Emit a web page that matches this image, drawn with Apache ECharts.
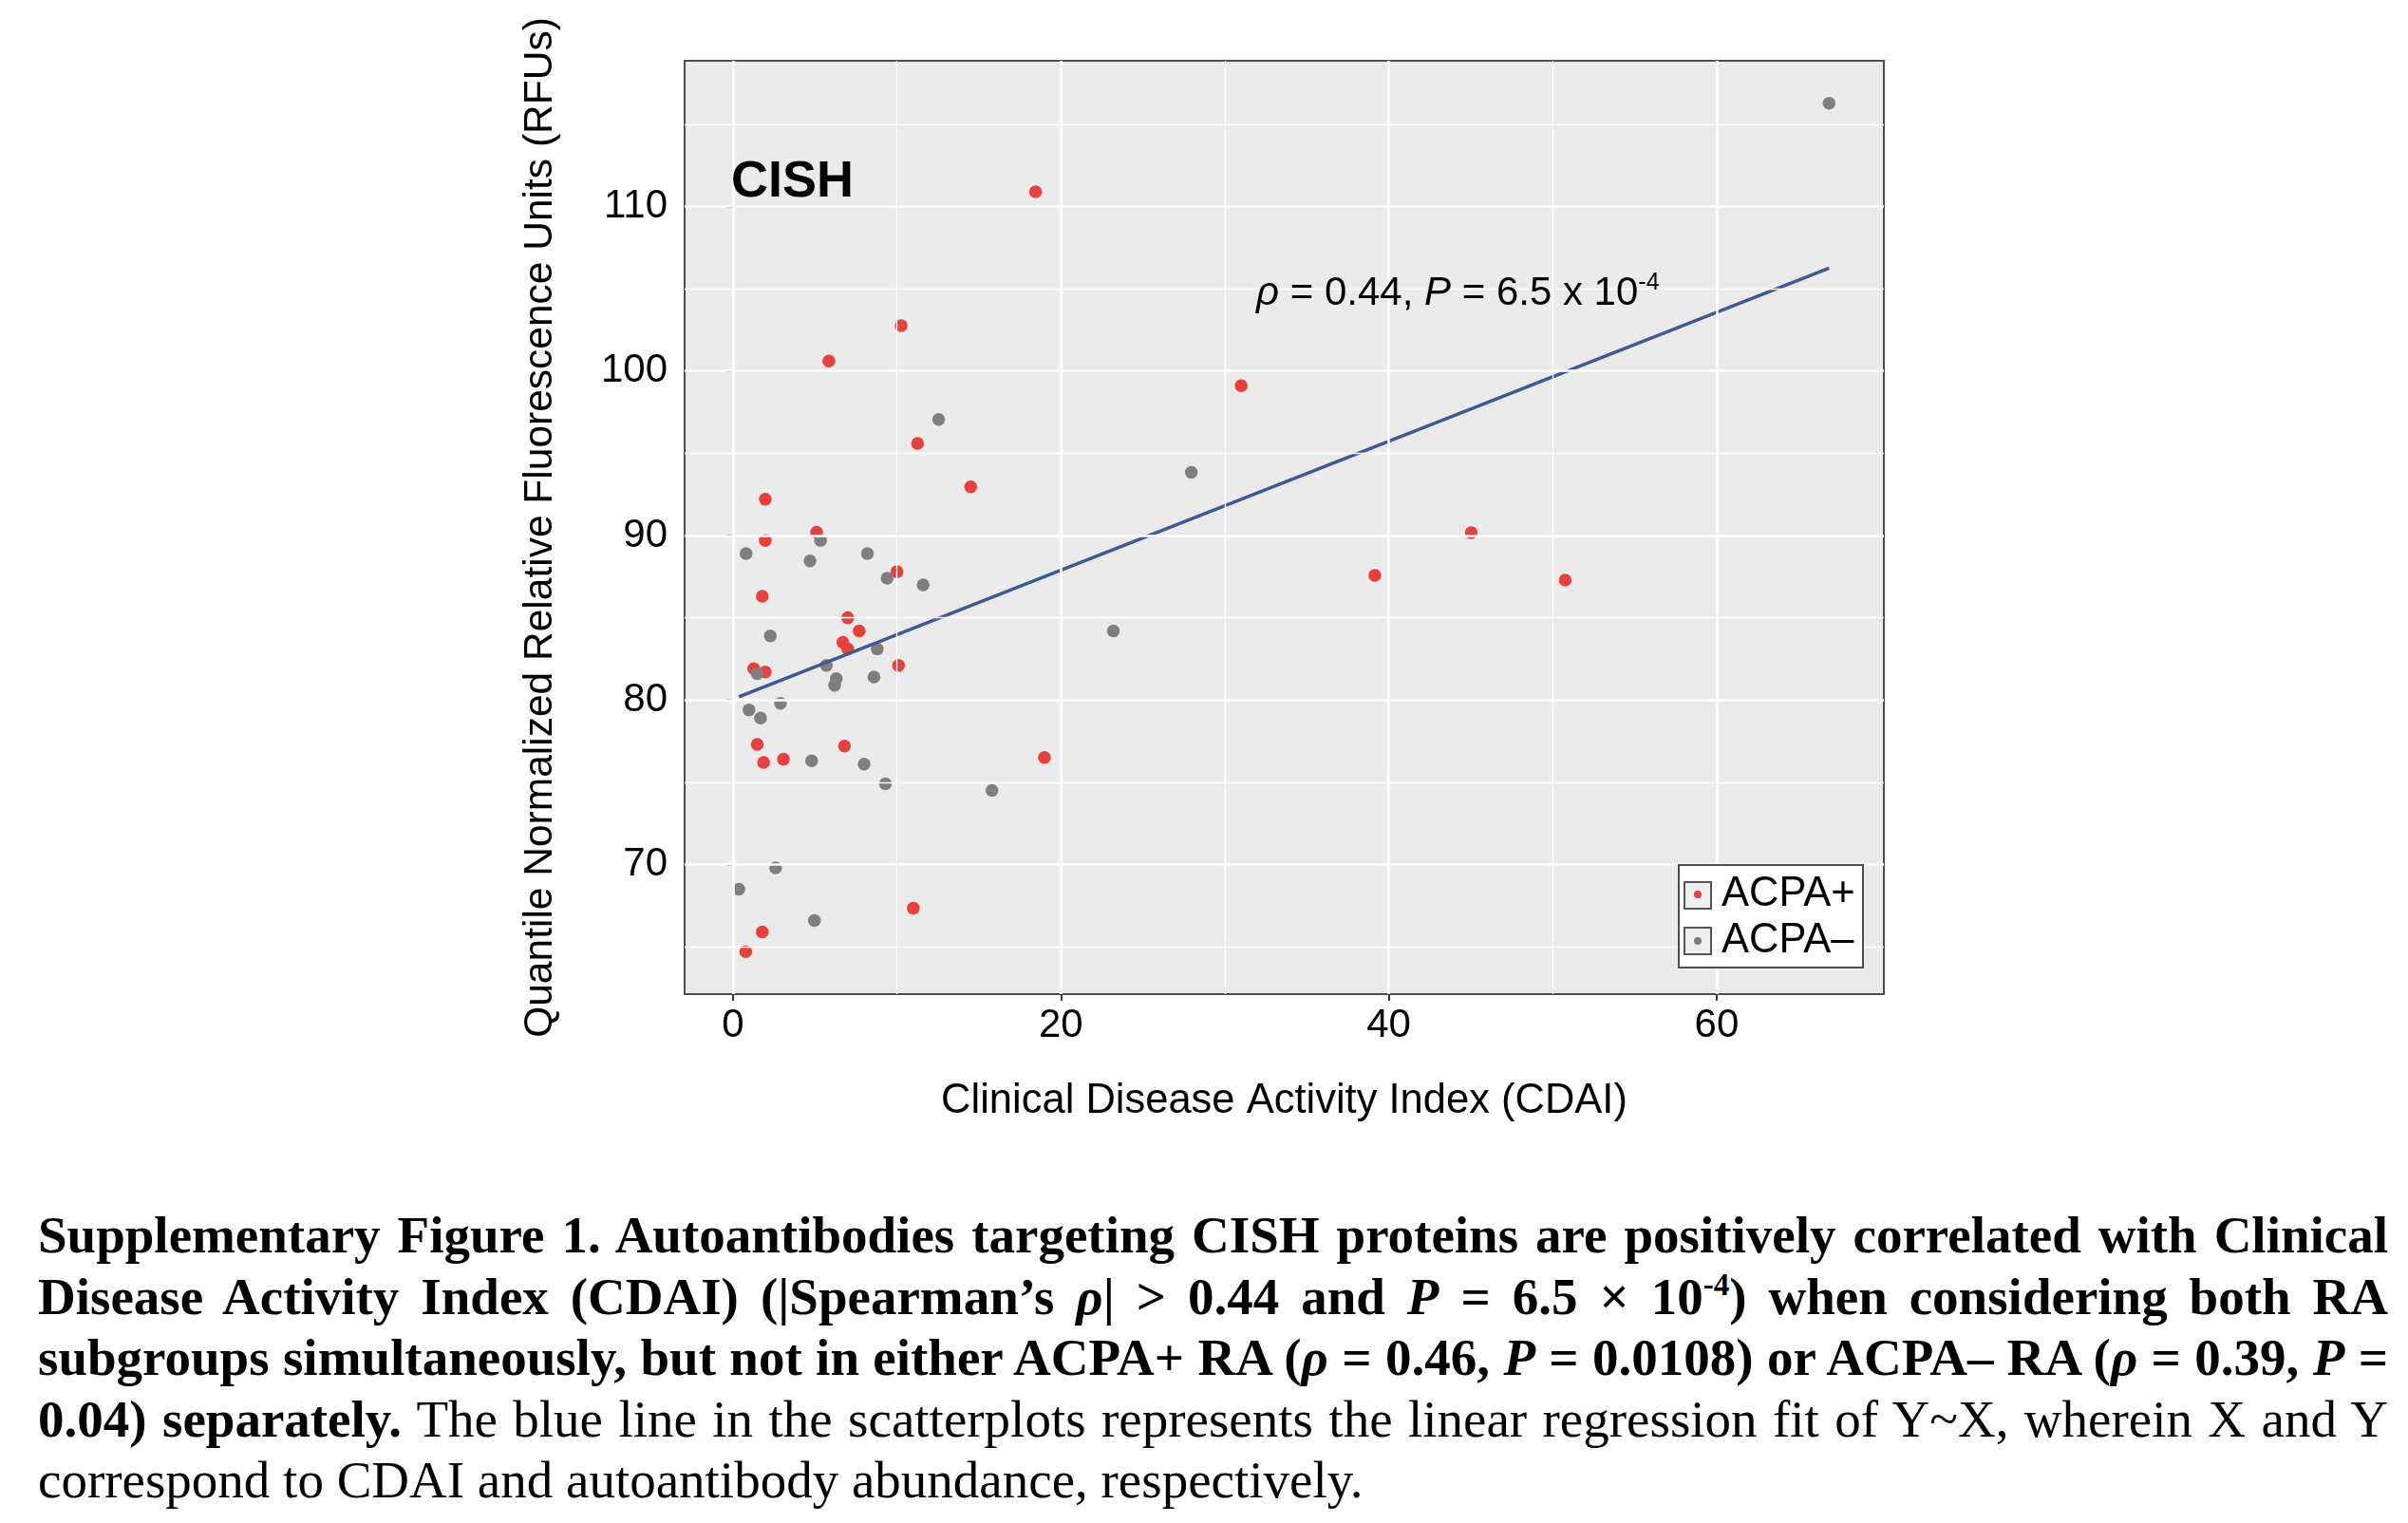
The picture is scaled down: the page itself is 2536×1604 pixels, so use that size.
<!DOCTYPE html>
<html>
<head>
<meta charset="utf-8">
<script src="https://cdn.jsdelivr.net/npm/echarts@6.0.0/dist/echarts.min.js"></script>
<style>
  body { margin: 0; background: #fff; width: 2536px; height: 1604px; overflow: hidden; position: relative; }
  #grafica { position: absolute; left: 0; top: 0; width: 2536px; height: 1240px; }
  #pie { position: absolute; left: 40px; top: 1269px; width: 2475px; font-family: "Liberation Serif", "Times New Roman", serif; font-size: 55px; line-height: 64.5px; color: #000; }
  .l { text-align: justify; text-align-last: justify; }
  .ult { text-align: left; text-align-last: left; }
  sup { font-size: 0.6em; vertical-align: 0.6em; line-height: 0; }
</style>
</head>
<body>
<div id="grafica"></div>
<div id="pie">
  <div class="l"><b>Supplementary Figure 1. Autoantibodies targeting CISH proteins are positively correlated with Clinical</b></div>
  <div class="l"><b>Disease Activity Index (CDAI) (|Spearman’s <i>ρ</i>| &gt; 0.44 and <i>P</i> = 6.5 × 10<sup>-4</sup>) when considering both RA</b></div>
  <div class="l"><b>subgroups simultaneously, but not in either ACPA+ RA (<i>ρ</i> = 0.46, <i>P</i> = 0.0108) or ACPA– RA (<i>ρ</i> = 0.39, <i>P</i> =</b></div>
  <div class="l"><b>0.04) separately.</b> The blue line in the scatterplots represents the linear regression fit of Y~X, wherein X and Y</div>
  <div class="ult">correspond to CDAI and autoantibody abundance, respectively.</div>
</div>
<script>
// ACPA+ (rojo)
const posX = [18.46, 10.26, 5.85, 31.0, 11.26, 14.5, 1.97, 5.1, 1.97, 45.03, 39.15, 50.76, 10.0, 1.79, 7.0,
              7.7, 6.7, 7.0, 1.27, 1.97, 10.1, 1.48, 6.8, 1.87, 3.08, 19.0, 11.0, 1.79, 0.78];
const posY = [110.9, 102.75, 100.6, 99.1, 95.6, 92.96, 92.2, 90.2, 89.7, 90.17, 87.57, 87.29, 87.8, 86.3, 85.0,
              84.2, 83.5, 83.1, 81.9, 81.7, 82.1, 77.3, 77.2, 76.2, 76.4, 76.5, 67.35, 65.9, 64.7];
// ACPA- (gris)
const negX = [66.86, 12.55, 27.96, 0.8, 5.34, 4.7, 8.2, 9.4, 11.6, 2.28, 23.2, 8.8, 5.7, 6.3,
              6.2, 8.6, 1.48, 2.9, 0.98, 1.68, 4.8, 8.0, 9.3, 15.8, 2.6, 0.36, 4.97];
const negY = [116.28, 97.05, 93.84, 88.9, 89.7, 88.45, 88.9, 87.4, 87.0, 83.9, 84.2, 83.1, 82.1, 81.3,
              80.9, 81.4, 81.6, 79.8, 79.4, 78.9, 76.3, 76.1, 74.9, 74.5, 69.8, 68.5, 66.6];
// recta de regresion Y~X
const fitX = [0.36, 66.86];
const fitY = [80.2, 106.25];

const xTicks = [0, 20, 40, 60];
const xMinor = [10, 30, 50];
const yTicks = [70, 80, 90, 100, 110];
const yMinor = [65, 75, 85, 95, 105, 115];

const pares = (xs, ys) => xs.map((x, i) => [x, ys[i]]);

const lineas = []
  .concat(xTicks.map(v => ({ xAxis: v, lineStyle: { width: 2.6 } })))
  .concat(xMinor.map(v => ({ xAxis: v, lineStyle: { width: 1.3 } })))
  .concat(yTicks.map(v => ({ yAxis: v, lineStyle: { width: 2.6 } })))
  .concat(yMinor.map(v => ({ yAxis: v, lineStyle: { width: 1.3 } })));

const fuente = 'Liberation Sans, Arial, Helvetica, sans-serif';

var dom = document.getElementById('grafica');
var myChart = echarts.init(dom, null, { renderer: 'canvas' });

var option = {
  animation: false,
  textStyle: { fontFamily: fuente },
  grid: {
    left: 721, top: 64, right: 552, bottom: 193,
    show: true, backgroundColor: '#EBEBEB', borderColor: '#4d4d4d', borderWidth: 2
  },
  xAxis: {
    type: 'value', min: -2.95, max: 70.2,
    name: 'Clinical Disease Activity Index (CDAI)',
    nameLocation: 'middle', nameGap: 91,
    nameTextStyle: { fontSize: 43.5, color: '#000', fontFamily: fuente },
    axisLine: { show: false },
    axisTick: { show: true, length: 7, customValues: xTicks, lineStyle: { color: '#333', width: 2 } },
    axisLabel: { customValues: xTicks, fontSize: 42, color: '#000', margin: 12, fontFamily: fuente },
    splitLine: { show: false }
  },
  yAxis: {
    type: 'value', min: 62.12, max: 118.86,
    name: 'Quantile Normalized Relative Fluorescence Units (RFUs)',
    nameLocation: 'middle', nameGap: 130,
    nameTextStyle: { fontSize: 42.5, color: '#000', fontFamily: fuente },
    axisLine: { show: false },
    axisTick: { show: true, length: 7, customValues: yTicks, lineStyle: { color: '#333', width: 2 } },
    axisLabel: { customValues: yTicks, fontSize: 42, color: '#000', margin: 18, fontFamily: fuente },
    splitLine: { show: false }
  },
  legend: {
    orient: 'vertical', left: 1784, top: 920, z: 20,
    padding: 0, itemGap: 5, itemWidth: 8, itemHeight: 8,
    icon: 'circle', selectedMode: false,
    textStyle: { fontSize: 43.5, lineHeight: 44, color: '#000', fontFamily: fuente, padding: [0, 0, 0, 16] },
    data: ['ACPA+', 'ACPA–']
  },
  graphic: [
    { type: 'rect', z: 10, shape: { x: 1768, y: 911, width: 194, height: 108 },
      style: { fill: '#fff', stroke: '#4d4d4d', lineWidth: 2 } },
    { type: 'rect', z: 11, shape: { x: 1774, y: 929, width: 28, height: 28 },
      style: { fill: '#EEEEEE', stroke: '#555', lineWidth: 2 } },
    { type: 'rect', z: 11, shape: { x: 1774, y: 977, width: 28, height: 28 },
      style: { fill: '#EEEEEE', stroke: '#555', lineWidth: 2 } },
    { type: 'text', z: 15, x: 770, y: 192,
      style: { text: 'CISH', font: 'bold 54px ' + fuente, fill: '#000', textVerticalAlign: 'middle' } },
    { type: 'text', z: 15, x: 1323, y: 309,
      style: {
        text: '{i|ρ} = 0.44, {i|P} = 6.5 x 10{s|-4}',
        fontSize: 42, fontFamily: fuente, fill: '#000', lineHeight: 46, verticalAlign: 'middle',
        rich: {
          i: { fontStyle: 'italic', fontSize: 42, fontFamily: fuente, lineHeight: 46 },
          s: { fontSize: 25, fontFamily: fuente, lineHeight: 26, verticalAlign: 'top' }
        }
      } }
  ],
  series: [
    {
      name: 'rejilla', type: 'line', data: [], z: 1, silent: true,
      markLine: {
        silent: true, symbol: ['none', 'none'], label: { show: false },
        lineStyle: { color: '#ffffff', type: 'solid' },
        data: lineas
      }
    },
    {
      name: 'ACPA+', type: 'scatter', z: 3, symbolSize: 13.5,
      itemStyle: { color: '#E8413B', opacity: 1 },
      data: pares(posX, posY)
    },
    {
      name: 'ACPA–', type: 'scatter', z: 3, symbolSize: 13.5,
      itemStyle: { color: '#7F7F7F', opacity: 1 },
      data: pares(negX, negY)
    },
    {
      name: 'ajuste', type: 'line', z: 4, symbol: 'none', silent: true,
      lineStyle: { color: '#3D5A95', width: 3.5 },
      data: pares(fitX, fitY)
    }
  ]
};

myChart.setOption(option);
window.addEventListener('resize', myChart.resize);
</script>
</body>
</html>
